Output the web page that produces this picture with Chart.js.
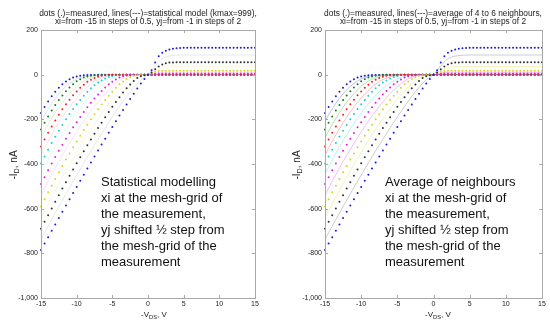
<!DOCTYPE html>
<html>
<head>
<meta charset="utf-8">
<script src="https://cdn.jsdelivr.net/npm/chart.js@4.4.0/dist/chart.umd.min.js"></script>
<style>
    body { margin: 0; width: 550px; height: 331px; overflow: hidden; position: relative; background: #fff;
           font-family: Arial, "Liberation Sans", sans-serif; }
    canvas { position: absolute; top: 0; }
    #left { left: 0; }
    #right { left: 275px; }
    .title { position: absolute; top: 8.5px; width: 300px; font-size: 8.4px; line-height: 8px; text-align: center; color: #222; white-space: nowrap; }
    .xlab { position: absolute; top: 310px; font-size: 8px; color: #222; white-space: nowrap; transform: translateX(-50%); }
    .ylab { position: absolute; top: 165px; font-size: 10px; color: #222; white-space: nowrap; transform: translate(-50%, -50%) rotate(-90deg); }
    .note { position: absolute; top: 174px; font-size: 13px; line-height: 16px; color: #111; white-space: nowrap; }
    sub { font-size: 72%; line-height: 0; vertical-align: -0.3em; }
</style>
</head>
<body>
<canvas id="left" width="275" height="331"></canvas>
<canvas id="right" width="275" height="331"></canvas>

<div class="title" style="left:-2px">dots (.)=measured, lines(---)=statistical model (kmax=999),<br>xi=from -15 in steps of 0.5, yj=from -1 in steps of 2</div>
<div class="title" style="left:283px">dots (.)=measured, lines(---)=average of 4 to 6 neighbours,<br>xi=from -15 in steps of 0.5, yj=from -1 in steps of 2</div>

<div class="xlab" style="left:154px">-V<sub>DS</sub>, V</div>
<div class="xlab" style="left:438px">-V<sub>DS</sub>, V</div>
<div class="ylab" style="left:13px">-I<sub>D</sub>, nA</div>
<div class="ylab" style="left:296px">-I<sub>D</sub>, nA</div>

<div class="note" style="left:101px">Statistical modelling<br>xi at the mesh-grid of<br>the measurement,<br>yj shifted ½ step from<br>the mesh-grid of the<br>measurement</div>
<div class="note" style="left:385px">Average of neighbours<br>xi at the mesh-grid of<br>the measurement,<br>yj shifted ½ step from<br>the mesh-grid of the<br>measurement</div>

<script>
/* ### Data ### */

// -V_DS, V (measured points, steps of 0.5)
const vds = [
    -15, -14.5, -14, -13.5, -13, -12.5, -12, -11.5, -11, -10.5,
    -10, -9.5, -9, -8.5, -8, -7.5, -7, -6.5, -6, -5.5,
    -5, -4.5, -4, -3.5, -3, -2.5, -2, -1.5, -1, -0.5,
    0, 0.5, 1, 1.5, 2, 2.5, 3, 3.5, 4, 4.5,
    5, 5.5, 6, 6.5, 7, 7.5, 8, 8.5, 9, 9.5,
    10, 10.5, 11, 11.5, 12, 12.5, 13, 13.5, 14, 14.5,
    15
];

// -V_DS, V (model lines)
const vLine = [
    -15, -14, -13, -12, -11, -10, -9, -8, -7, -6,
    -5, -4, -3, -2, -1, 0, 1, 2, 3, 4,
    5, 6, 7, 8, 9, 10, 11, 12, 13, 14,
    15
];

const xTicks = [-15, -10, -5, 0, 5, 10, 15];
const yTicks = [-1000, -800, -600, -400, -200, 0, 200];

// measured -I_D, nA
const blue1 = [
    -172, -145, -120, -97, -77, -59, -43, -31, -21, -13,
    -8, -5, -3, -2, -1, -1, 0, 0, 0, 0,
    0, 0, 0, 0, 0, 0, 0, 0, 0, 0,
    0, 0, 0, 0, 0, 0, 0, 0, 0, 0,
    0, 0, 0, 0, 0, 0, 0, 0, 0, 0,
    0, 0, 0, 0, 0, 0, 0, 0, 0, 0,
    0
];
const green = [
    -245, -215, -187, -160, -136, -113, -93, -74, -58, -43,
    -30, -20, -13, -8, -5, -3, -2, -1, -1, 0,
    0, 0, 0, 0, 0, 0, 0, 0, 0, 0,
    0, 0, 0, 0, 0, 0, 0, 0, 0, 0,
    0, 0, 0, 0, 0, 0, 0, 0, 0, 0,
    0, 0, 0, 0, 0, 0, 0, 0, 0, 0,
    0
];
const red = [
    -322, -290, -260, -232, -205, -179, -155, -133, -112, -92,
    -75, -59, -45, -32, -23, -15, -9, -5, -3, -2,
    -1, -1, 0, 0, 0, 0, 0, 0, 0, 0,
    0, 0, 0, 0, 0, 0, 0, 0, 0, 0,
    0, 0, 0, 0, 0, 0, 0, 0, 0, 0,
    0, 0, 0, 0, 0, 0, 0, 0, 0, 0,
    0
];
const cyan = [
    -398, -366, -336, -306, -278, -251, -225, -200, -176, -154,
    -133, -113, -94, -77, -61, -47, -35, -26, -17, -10,
    -6, -3, -2, -1, -1, 0, 0, 0, 0, 0,
    0, 0, 0, 0, 0, 0, 0, 0, 0, 0,
    0, 0, 0, 0, 0, 0, 0, 0, 0, 0,
    0, 0, 0, 0, 0, 0, 0, 0, 0, 0,
    0
];
const magenta = [
    -490, -459, -428, -398, -369, -341, -314, -287, -261, -236,
    -213, -189, -167, -146, -126, -107, -89, -73, -57, -43,
    -32, -22, -13, -7, -4, -2, -1, -1, 0, 0,
    0, 2, 4, 5, 5, 5, 5, 5, 5, 5,
    5, 5, 5, 5, 5, 5, 5, 5, 5, 5,
    5, 5, 5, 5, 5, 5, 5, 5, 5, 5,
    5
];
const yellow = [
    -590, -558, -527, -497, -467, -437, -409, -380, -353, -325,
    -299, -273, -248, -224, -200, -177, -155, -134, -113, -94,
    -76, -59, -43, -31, -19, -10, -5, -3, -2, -1,
    0, 8, 13, 16, 17, 18, 18, 18, 18, 18,
    18, 18, 18, 18, 18, 18, 18, 18, 18, 18,
    18, 18, 18, 18, 18, 18, 18, 18, 18, 18,
    18
];
const black = [
    -690, -659, -629, -599, -569, -540, -510, -482, -453, -425,
    -397, -370, -343, -316, -290, -264, -239, -215, -191, -167,
    -144, -122, -101, -80, -61, -44, -28, -15, -7, -3,
    0, 10, 24, 37, 46, 51, 54, 55, 56, 56,
    56, 56, 56, 56, 56, 56, 56, 56, 56, 56,
    56, 56, 56, 56, 56, 56, 56, 56, 56, 56,
    56
];
const blue2 = [
    -785, -756, -728, -699, -671, -642, -614, -586, -558, -530,
    -503, -475, -448, -420, -393, -366, -339, -313, -287, -260,
    -234, -209, -183, -158, -134, -109, -86, -62, -40, -19,
    0, 20, 55, 82, 98, 107, 113, 116, 118, 119,
    120, 121, 121, 121, 121, 121, 121, 121, 121, 121,
    121, 121, 121, 121, 121, 121, 121, 121, 121, 121,
    121
];

// model lines, shifted half a step between the measured curves
const line1 = [-208, -153, -106, -68, -39, -19, -8, -3, -1, 0, 0, 0, 0, 0, 0, 0, 0, 0, 0, 0, 0, 0, 0, 0, 0, 0, 0, 0, 0, 0, 0];
const line2 = [-283, -223, -170, -124, -85, -52, -29, -14, -5, -2, 0, 0, 0, 0, 0, 0, 0, 0, 0, 0, 0, 0, 0, 0, 0, 0, 0, 0, 0, 0, 0];
const line3 = [-360, -298, -241, -190, -144, -104, -70, -42, -22, -10, -3, -1, 0, 0, 0, 0, 0, 0, 0, 0, 0, 0, 0, 0, 0, 0, 0, 0, 0, 0, 0];
const line4 = [-444, -382, -323, -269, -218, -173, -130, -93, -62, -37, -19, -7, -2, 0, 0, 0, 2, 3, 3, 3, 3, 3, 3, 3, 3, 3, 3, 3, 3, 3, 3];
const line5 = [-540, -477, -418, -361, -307, -256, -207, -163, -122, -85, -54, -28, -11, -3, -1, 0, 8, 11, 11, 11, 11, 11, 11, 11, 11, 11, 11, 11, 11, 11, 11];
const line6 = [-640, -578, -518, -459, -403, -348, -295, -245, -197, -152, -110, -72, -40, -16, -4, 0, 18, 31, 36, 37, 37, 37, 37, 37, 37, 37, 37, 37, 37, 37, 37];
const line7 = [-737, -678, -620, -562, -505, -450, -395, -341, -289, -239, -189, -142, -97, -57, -23, 0, 39, 72, 83, 87, 88, 88, 88, 88, 88, 88, 88, 88, 88, 88, 88];

const measured = [blue1, green, red, cyan, magenta, yellow, black, blue2];
const model = [line1, line2, line3, line4, line5, line6, line7];

const dotColors = ['#1c1cd2', '#168016', '#ff1c1c', '#12d2d2', '#e41ce4', '#d6d61a', '#303030', '#1c1cd2'];
const lineRGB = ['40,40,220', '30,140,30', '255,40,40', '20,210,210', '230,40,230', '215,215,30', '90,90,90'];
const drawOrder = [7, 6, 4, 5, 3, 2, 1, 0];

measured.forEach(s => { if (s.length !== vds.length) throw new Error('bad measured length'); });
model.forEach(s => { if (s.length !== vLine.length) throw new Error('bad line length'); });

/* ### Chart.js ### */

Chart.defaults.font.family = 'Arial, "Liberation Sans", sans-serif';

// MATLAB style box with inward ticks
const boxPlugin = {
    id: 'box',
    afterDatasetsDraw(chart) {
        const { ctx, chartArea: a, scales: { x, y } } = chart;
        ctx.save();
        ctx.strokeStyle = '#a9a9a9';
        ctx.lineWidth = 1;
        ctx.strokeRect(a.left + 0.5, a.top + 0.5, a.right - a.left, a.bottom - a.top);
        ctx.beginPath();
        xTicks.forEach(v => {
            const px = Math.round(x.getPixelForValue(v)) + 0.5;
            ctx.moveTo(px, a.bottom); ctx.lineTo(px, a.bottom - 3);
            ctx.moveTo(px, a.top); ctx.lineTo(px, a.top + 3);
        });
        yTicks.forEach(v => {
            const py = Math.round(y.getPixelForValue(v)) + 0.5;
            ctx.moveTo(a.left, py); ctx.lineTo(a.left + 3, py);
            ctx.moveTo(a.right, py); ctx.lineTo(a.right - 3, py);
        });
        ctx.stroke();
        ctx.restore();
    }
};

function makeChart(id, axisWidth, padRight, lineAlpha) {
    const datasets = [];

    measured.forEach((s, k) => {
        datasets.push({
            data: vds.map((v, i) => ({ x: v, y: s[i] })),
            showLine: false,
            pointRadius: 1.0,
            pointHoverRadius: 0,
            pointBorderWidth: 0,
            pointBackgroundColor: dotColors[k],
            borderColor: dotColors[k],
            clip: false,
            order: drawOrder[k]
        });
    });

    model.forEach((s, k) => {
        datasets.push({
            data: vLine.map((v, i) => ({ x: v, y: s[i] })),
            showLine: true,
            pointRadius: 0,
            borderWidth: 1,
            borderColor: 'rgba(' + lineRGB[k] + ',' + lineAlpha + ')',
            tension: 0.3,
            order: 20
        });
    });

    return new Chart(document.getElementById(id), {
        type: 'scatter',
        data: { datasets },
        options: {
            responsive: false,
            animation: false,
            events: [],
            layout: { padding: { top: 30, right: padRight, left: 0, bottom: 0 } },
            plugins: { legend: { display: false }, tooltip: { enabled: false }, title: { display: false } },
            scales: {
                x: {
                    type: 'linear', min: -15, max: 15,
                    grid: { display: false, drawTicks: false },
                    border: { display: false },
                    ticks: { font: { size: 7 }, color: '#222', padding: 2, maxRotation: 0, autoSkip: false },
                    afterBuildTicks: s => { s.ticks = xTicks.map(v => ({ value: v })); },
                    afterFit: s => { s.height = 33; }
                },
                y: {
                    type: 'linear', min: -1000, max: 200,
                    grid: { display: false, drawTicks: false },
                    border: { display: false },
                    ticks: { font: { size: 7 }, color: '#222', padding: 3, autoSkip: false },
                    afterBuildTicks: s => { s.ticks = yTicks.map(v => ({ value: v })); },
                    afterFit: s => { s.width = axisWidth; }
                }
            }
        },
        plugins: [boxPlugin]
    });
}

makeChart('left', 41, 20, 0.14);
makeChart('right', 50, 8, 0.3);
</script>
</body>
</html>
